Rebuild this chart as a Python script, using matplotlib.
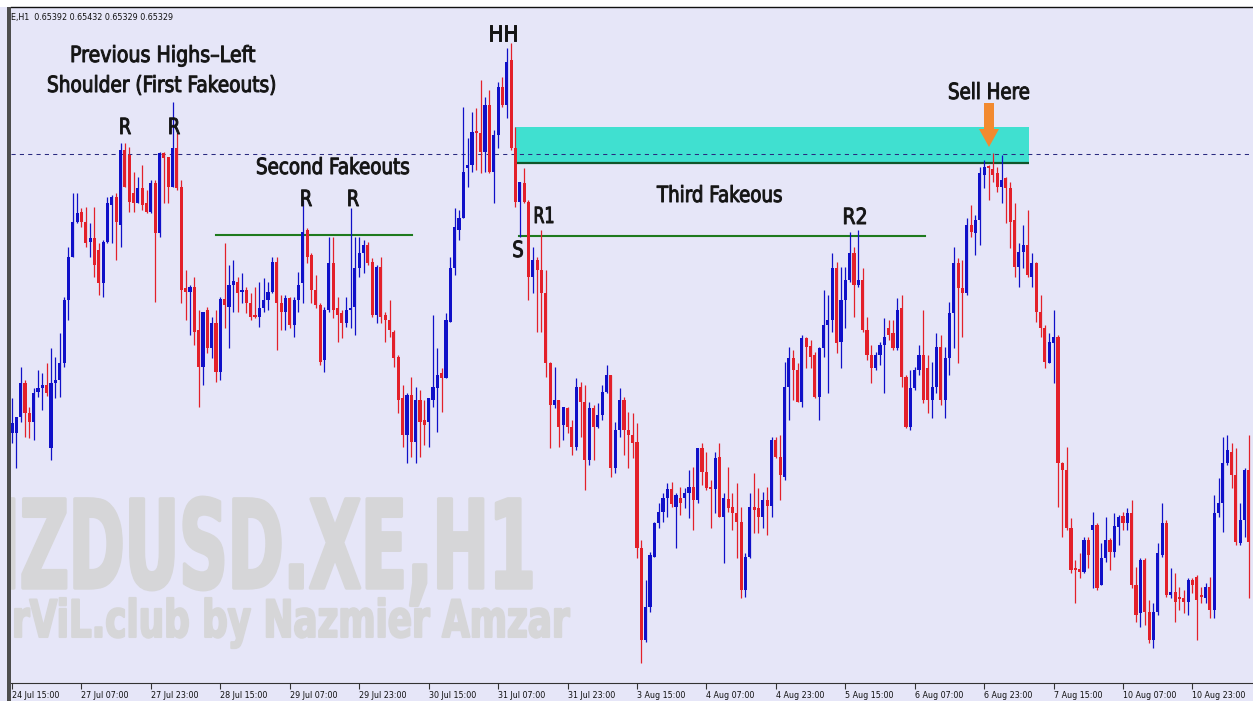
import numpy as np
import matplotlib
matplotlib.use("Agg")
import matplotlib.pyplot as plt
from matplotlib.patches import Rectangle, Polygon
from matplotlib.patheffects import AbstractPathEffect
from matplotlib.transforms import Affine2D

# ---------------------------------------------------------------- data
symbol = "NZDUSD.XE,H1"
credit = "rViL.club by Nazmier Amzar"
header = "E,H1  0.65392 0.65432 0.65329 0.65329"

tick_labels = ["24 Jul 15:00", "27 Jul 07:00", "27 Jul 23:00", "28 Jul 15:00",
               "29 Jul 07:00", "29 Jul 23:00", "30 Jul 15:00", "31 Jul 07:00",
               "31 Jul 23:00", "3 Aug 15:00", "4 Aug 07:00", "4 Aug 23:00",
               "5 Aug 15:00", "6 Aug 07:00", "6 Aug 23:00", "7 Aug 15:00",
               "10 Aug 07:00", "10 Aug 23:00"]
bars_per_tick = 16

# hourly candles, prices in points (1 point = 0.00001)
opens_pts = [
    65429, 65429, 65445, 65479, 65449, 65440, 65470, 65474, 65477, 65414,
    65479, 65482, 65499, 65562, 65605, 65640, 65650, 65640, 65620, 65624,
    65612, 65579, 65620, 65657, 65665, 65637, 65712, 65707, 65669, 65659,
    65674, 65659, 65650, 65679, 65629, 65709, 65705, 65675, 65714, 65675,
    65574, 65570, 65575, 65532, 65495, 65552, 65514, 65539, 65490, 65563,
    65555, 65577, 65580, 65570, 65572, 65559, 65546, 65545, 65554, 65562,
    65570, 65600, 65559, 65550, 65564, 65537, 65562, 65579, 65632, 65607,
    65572, 65557, 65502, 65552, 65599, 65554, 65549, 65539, 65552, 65555,
    65594, 65609, 65617, 65600, 65547, 65595, 65547, 65542, 65530, 65505,
    65464, 65427, 65467, 65420, 65462, 65442, 65440, 65462, 65474, 65489,
    65484, 65540, 65594, 65632, 65644, 65694, 65697, 65730, 65729, 65710,
    65757, 65690, 65727, 65775, 65757, 65802, 65714, 65660, 65679, 65660,
    65585, 65602, 65592, 65569, 65499, 65457, 65462, 65437, 65454, 65435,
    65415, 65475, 65460, 65402, 65454, 65435, 65447, 65470, 65487, 65394,
    65432, 65462, 65432, 65427, 65420, 65314, 65222, 65255, 65305, 65339,
    65350, 65364, 65373, 65355, 65364, 65364, 65369, 65375, 65362, 65414,
    65390, 65375, 65373, 65405, 65345, 65363, 65355, 65349, 65340, 65272,
    65305, 65355, 65354, 65345, 65362, 65356, 65422, 65405, 65385, 65475,
    65504, 65492, 65460, 65524, 65516, 65507, 65465, 65514, 65537, 65542,
    65594, 65520, 65562, 65582, 65609, 65577, 65582, 65532, 65507, 65494,
    65507, 65517, 65534, 65529, 65514, 65554, 65485, 65435, 65474, 65492,
    65507, 65494, 65462, 65475, 65515, 65462, 65504, 65549, 65599, 65574,
    65569, 65637, 65629, 65642, 65687, 65695, 65693, 65689, 65675, 65684,
    65674, 65642, 65595, 65610, 65617, 65585, 65599, 65550, 65534, 65499,
    65519, 65525, 65399, 65392, 65334, 65293, 65293, 65290, 65322, 65332,
    65337, 65277, 65304, 65322, 65310, 65335, 65346, 65339, 65349, 65277,
    65249, 65302, 65250, 65222, 65250, 65307, 65339, 65267, 65270, 65264,
    65264, 65260, 65282, 65285, 65266, 65264, 65275, 65252, 65349, 65359,
    65399, 65410, 65387, 65319, 65342, 65392,
]
highs_pts = [
    65464, 65445, 65495, 65482, 65455, 65474, 65492, 65489, 65499, 65514,
    65505, 65529, 65565, 65615, 65669, 65669, 65654, 65655, 65639, 65655,
    65619, 65622, 65665, 65667, 65669, 65719, 65719, 65715, 65690, 65685,
    65697, 65672, 65682, 65682, 65710, 65710, 65705, 65760, 65729, 65682,
    65592, 65577, 65585, 65552, 65550, 65555, 65545, 65552, 65565, 65619,
    65597, 65602, 65585, 65589, 65575, 65569, 65575, 65580, 65584, 65580,
    65605, 65605, 65567, 65567, 65565, 65565, 65590, 65662, 65634, 65609,
    65587, 65559, 65555, 65625, 65625, 65565, 65552, 65565, 65654, 65625,
    65625, 65622, 65620, 65604, 65597, 65605, 65550, 65562, 65532, 65507,
    65477, 65469, 65485, 65475, 65472, 65462, 65464, 65547, 65514, 65494,
    65549, 65605, 65654, 65652, 65755, 65724, 65750, 65754, 65782, 65765,
    65772, 65732, 65780, 65785, 65814, 65819, 65735, 65680, 65694, 65662,
    65615, 65605, 65632, 65592, 65500, 65495, 65462, 65455, 65455, 65442,
    65484, 65480, 65477, 65460, 65457, 65459, 65477, 65497, 65487, 65440,
    65474, 65465, 65450, 65449, 65439, 65322, 65282, 65310, 65340, 65359,
    65369, 65379, 65380, 65369, 65375, 65374, 65392, 65395, 65414, 65419,
    65410, 65382, 65410, 65419, 65369, 65395, 65369, 65379, 65355, 65309,
    65369, 65389, 65374, 65370, 65375, 65425, 65425, 65427, 65500, 65515,
    65512, 65499, 65527, 65525, 65522, 65510, 65515, 65572, 65567, 65609,
    65600, 65595, 65595, 65630, 65615, 65632, 65594, 65545, 65517, 65510,
    65520, 65544, 65542, 65542, 65564, 65567, 65487, 65492, 65495, 65517,
    65552, 65507, 65500, 65529, 65527, 65515, 65560, 65615, 65604, 65602,
    65644, 65657, 65647, 65695, 65702, 65697, 65709, 65695, 65707, 65685,
    65680, 65659, 65619, 65637, 65652, 65609, 65600, 65567, 65537, 65529,
    65552, 65527, 65400, 65415, 65344, 65302, 65309, 65325, 65325, 65350,
    65339, 65319, 65345, 65324, 65349, 65347, 65350, 65354, 65362, 65295,
    65304, 65304, 65262, 65259, 65319, 65359, 65342, 65294, 65289, 65275,
    65272, 65284, 65284, 65287, 65275, 65279, 65285, 65367, 65384, 65425,
    65427, 65419, 65414, 65359, 65394, 65427,
]
lows_pts = [
    65419, 65394, 65440, 65425, 65424, 65422, 65465, 65452, 65466, 65402,
    65464, 65465, 65495, 65542, 65605, 65639, 65635, 65615, 65605, 65585,
    65567, 65565, 65619, 65619, 65602, 65615, 65675, 65650, 65650, 65659,
    65652, 65649, 65649, 65560, 65625, 65659, 65659, 65675, 65672, 65559,
    65542, 65527, 65517, 65455, 65477, 65509, 65504, 65480, 65482, 65534,
    65514, 65550, 65550, 65559, 65549, 65542, 65544, 65535, 65550, 65552,
    65569, 65512, 65532, 65532, 65534, 65525, 65550, 65559, 65599, 65559,
    65554, 65497, 65490, 65550, 65544, 65520, 65524, 65535, 65534, 65527,
    65585, 65589, 65597, 65545, 65539, 65539, 65520, 65525, 65495, 65449,
    65415, 65399, 65405, 65399, 65405, 65417, 65415, 65455, 65430, 65450,
    65484, 65540, 65587, 65622, 65644, 65675, 65690, 65692, 65689, 65690,
    65689, 65659, 65714, 65755, 65744, 65712, 65655, 65625, 65659, 65562,
    65569, 65530, 65530, 65485, 65414, 65454, 65415, 65422, 65429, 65407,
    65412, 65425, 65372, 65397, 65402, 65434, 65442, 65469, 65385, 65389,
    65425, 65407, 65394, 65404, 65304, 65199, 65220, 65250, 65305, 65334,
    65340, 65345, 65355, 65314, 65347, 65354, 65344, 65332, 65359, 65377,
    65372, 65334, 65349, 65345, 65299, 65350, 65332, 65304, 65264, 65265,
    65304, 65329, 65329, 65334, 65327, 65345, 65404, 65362, 65382, 65442,
    65462, 65460, 65455, 65494, 65494, 65464, 65442, 65505, 65469, 65530,
    65509, 65494, 65534, 65580, 65545, 65575, 65530, 65502, 65479, 65492,
    65497, 65469, 65522, 65512, 65512, 65475, 65434, 65432, 65472, 65487,
    65459, 65449, 65444, 65469, 65457, 65444, 65487, 65514, 65499, 65525,
    65567, 65625, 65607, 65617, 65674, 65662, 65680, 65670, 65659, 65639,
    65614, 65585, 65575, 65594, 65585, 65575, 65540, 65525, 65494, 65499,
    65479, 65355, 65325, 65332, 65289, 65259, 65284, 65289, 65294, 65274,
    65272, 65277, 65300, 65292, 65305, 65317, 65332, 65332, 65274, 65240,
    65235, 65237, 65219, 65214, 65247, 65305, 65265, 65264, 65240, 65252,
    65249, 65247, 65269, 65222, 65259, 65259, 65244, 65244, 65345, 65330,
    65397, 65374, 65317, 65317, 65325, 65264,
]
closes_pts = [
    65439, 65445, 65479, 65449, 65440, 65469, 65474, 65477, 65469, 65479,
    65482, 65499, 65562, 65605, 65640, 65649, 65640, 65619, 65624, 65597,
    65579, 65620, 65659, 65665, 65640, 65712, 65675, 65660, 65659, 65674,
    65657, 65650, 65679, 65629, 65709, 65704, 65675, 65714, 65674, 65572,
    65570, 65575, 65530, 65495, 65550, 65514, 65539, 65490, 65563, 65557,
    65577, 65581, 65569, 65572, 65559, 65545, 65545, 65554, 65562, 65570,
    65600, 65559, 65550, 65564, 65537, 65562, 65577, 65630, 65605, 65572,
    65557, 65500, 65552, 65599, 65552, 65547, 65539, 65552, 65554, 65594,
    65609, 65617, 65599, 65547, 65595, 65545, 65542, 65532, 65504, 65462,
    65427, 65467, 65420, 65462, 65440, 65437, 65464, 65475, 65487, 65484,
    65542, 65594, 65635, 65644, 65690, 65697, 65730, 65729, 65710, 65757,
    65690, 65727, 65775, 65757, 65800, 65714, 65660, 65680, 65660, 65585,
    65602, 65592, 65569, 65499, 65457, 65462, 65435, 65455, 65435, 65415,
    65475, 65460, 65402, 65454, 65435, 65447, 65470, 65487, 65394, 65432,
    65462, 65432, 65427, 65419, 65314, 65222, 65255, 65307, 65339, 65350,
    65364, 65373, 65358, 65367, 65359, 65369, 65375, 65362, 65414, 65390,
    65374, 65373, 65404, 65345, 65364, 65354, 65349, 65340, 65272, 65305,
    65355, 65352, 65345, 65362, 65356, 65422, 65405, 65387, 65475, 65504,
    65492, 65460, 65524, 65515, 65505, 65465, 65514, 65537, 65542, 65594,
    65519, 65562, 65582, 65609, 65577, 65582, 65532, 65507, 65494, 65507,
    65517, 65525, 65527, 65514, 65552, 65485, 65435, 65474, 65492, 65507,
    65462, 65462, 65475, 65515, 65462, 65504, 65549, 65599, 65574, 65569,
    65637, 65630, 65642, 65689, 65695, 65694, 65687, 65675, 65682, 65674,
    65640, 65595, 65610, 65617, 65587, 65599, 65550, 65534, 65500, 65520,
    65525, 65399, 65392, 65334, 65292, 65292, 65290, 65322, 65307, 65337,
    65274, 65304, 65322, 65310, 65336, 65345, 65339, 65349, 65277, 65247,
    65302, 65250, 65222, 65250, 65309, 65339, 65267, 65270, 65260, 65263,
    65260, 65282, 65277, 65262, 65265, 65275, 65252, 65349, 65359, 65399,
    65412, 65387, 65320, 65342, 65392, 65320,
]

# drawn levels and zones
price_line = 0.65708
supply_zone_low, supply_zone_high = 0.65699, 0.65735
supply_zone_bars = (116.0, 234.3)
shoulder_level = 0.65627
shoulder_bars = (47.0, 92.2)
support_level = 0.65626
support_bars = (116.8, 210.4)

# ---------------------------------------------------------------- style
W, H, DPI = 1253, 701, 100
BG = "#E6E6F8"
BULL = "#1010C8"
BEAR = "#E3202A"
INK = "#141414"
GREEN = "#1E7A1E"
ZONE = "#40E0D0"
ORANGE = "#F28A30"
WATERMARK = "#D6D6D8"

POINT = 1e-5
opens = np.array(opens_pts) * POINT
highs = np.array(highs_pts) * POINT
lows = np.array(lows_pts) * POINT
closes = np.array(closes_pts) * POINT
assert len(opens) == len(highs) == len(lows) == len(closes)
n = len(opens)


class Squeeze(AbstractPathEffect):
    """Horizontally compress a text path about a fixed display x."""

    def __init__(self, sx, x0, widen=0.0):
        super().__init__()
        self.sx, self.x0, self.widen = sx, x0, widen

    def draw_path(self, renderer, gc, tpath, affine, rgbFace=None):
        t = affine + Affine2D().translate(-self.x0, 0).scale(self.sx, 1.0).translate(self.x0, 0)
        if self.widen > 0 and rgbFace is not None:
            gc2 = renderer.new_gc()
            gc2.copy_properties(gc)
            gc2.set_linewidth(self.widen)
            gc2.set_foreground(rgbFace)
            gc2.set_joinstyle("round")
            renderer.draw_path(gc2, tpath, t, rgbFace)
            gc2.restore()
        else:
            renderer.draw_path(gc, tpath, t, rgbFace)


fig = plt.figure(figsize=(W / DPI, H / DPI), dpi=DPI, facecolor=BG)
AX_L, AX_R, AX_T, AX_B = 11, 1253, 7, 683
ax = fig.add_axes([AX_L / W, 1 - AX_B / H, (AX_R - AX_L) / W, (AX_B - AX_T) / H])
ax.set_facecolor(BG)

bar_px = 4.34
ax.set_xlim((AX_L - 12) / bar_px, (AX_R - 12) / bar_px)
ax.set_ylim(0.65179, 0.65855)

renderer = fig.canvas.get_renderer()


def fxy(px, py):
    return px / W, 1 - py / H


def label(s, px, py, size, width=None, sx=None, ha="center", color=INK,
          weight="normal", fit=None, clip=False, widen=0.0, z=8):
    t = ax.text(*fxy(px, py), s, transform=fig.transFigure, ha=ha, va="baseline",
                fontsize=size, color=color, fontweight=weight, zorder=z,
                family="DejaVu Sans")
    if width is not None:
        probe = t
        if fit is not None:
            probe = ax.text(0, 0, fit, transform=fig.transFigure, fontsize=size,
                            fontweight=weight, family="DejaVu Sans")
        w = probe.get_window_extent(renderer).width
        if probe is not t:
            probe.remove()
        sx = width / w
    if sx is not None:
        t.set_path_effects([Squeeze(sx, px, widen)])
    if clip:
        t.set_clip_on(True)
        t.set_clip_box(ax.bbox)
    return t


# watermark
label(symbol, 536, 588, 88, width=536 - 20, fit=symbol[1:], ha="right",
      color=WATERMARK, weight="bold", clip=True, widen=2.5, z=1)
label(credit, 570, 637, 37, width=570 - 12, ha="right", color=WATERMARK,
      weight="bold", clip=True, widen=1.5, z=1)

# supply zone and levels
x0, x1 = supply_zone_bars
ax.add_patch(Rectangle((x0, supply_zone_low), x1 - x0, supply_zone_high - supply_zone_low,
                       facecolor=ZONE, edgecolor="none", zorder=2))
ax.plot([x0, x1], [supply_zone_low, supply_zone_low], color="#10552A", lw=1.6,
        solid_capstyle="butt", zorder=3)
ax.axhline(price_line, color="#2A2A80", lw=0.75, ls=(0, (4, 4)), zorder=3)
ax.plot(shoulder_bars, [shoulder_level] * 2, color=GREEN, lw=1.5, zorder=3)
ax.plot(support_bars, [support_level] * 2, color=GREEN, lw=1.5, zorder=3)

# candles
idx = np.arange(n)
bull = closes >= opens
cols = np.where(bull, BULL, BEAR)
ax.vlines(idx, lows, highs, colors=cols, lw=0.9, zorder=4)
body_low = np.minimum(opens, closes)
body_h = np.maximum(np.abs(closes - opens), 1.5 * POINT)
ax.bar(idx, body_h, bottom=body_low, width=0.72, color=cols, linewidth=0, zorder=5)

# axes decoration
for side in ("right", "left"):
    ax.spines[side].set_visible(False)
ax.spines["top"].set_color("#111111")
ax.spines["top"].set_linewidth(1.0)
ax.spines["bottom"].set_color("#333333")
ax.spines["bottom"].set_linewidth(0.8)
ax.set_yticks([])
ax.set_xticks(np.arange(len(tick_labels)) * bars_per_tick)
ax.set_xticklabels(tick_labels, ha="left", fontsize=5.8, color="#111111")
ax.tick_params(axis="x", length=4, width=0.8, color="#333333", pad=1.5)

fig.add_artist(Rectangle((0, 1 - 7 / H), 1, 7 / H, transform=fig.transFigure,
                         facecolor="white", edgecolor="none", zorder=-1))
fig.add_artist(Rectangle((7 / W, 0), 4 / W, 1 - 7 / H, transform=fig.transFigure,
                         facecolor="#4D4D4D", edgecolor="none", zorder=3))

ax.text(*fxy(11, 20), header, transform=fig.transFigure, fontsize=5.8, color="#111111",
        ha="left", va="baseline", zorder=8)

# annotations
label("Previous Highs\u2013Left", 163, 62, 16, width=186, widen=0.7)
label("Shoulder (First Fakeouts)", 162, 92, 16, width=230, widen=0.7)
for px, py in [(125, 134), (174, 134), (306, 206), (353, 206)]:
    label("R", px, py, 16, sx=0.8, widen=0.7)
label("Second Fakeouts", 333, 174, 16, width=154, widen=0.7)
label("HH", 503, 41, 16, width=29, widen=0.7)
label("R1", 544, 223, 16, width=21, widen=0.7)
label("S", 518, 257, 16, sx=0.8, widen=0.7)
label("Third Fakeous", 720, 202, 16, width=126, widen=0.7)
label("R2", 855, 224, 16, width=25, widen=0.7)
label("Sell Here", 989, 99, 16, width=82, widen=0.7)

arrow = [(984, 103), (994, 103), (994, 129), (999, 129), (989, 147), (979, 129), (984, 129)]
fig.add_artist(Polygon([fxy(*p) for p in arrow], closed=True, transform=fig.transFigure,
                       facecolor=ORANGE, edgecolor="none", zorder=5))

fig.savefig("out.png", dpi=DPI, facecolor=BG)
